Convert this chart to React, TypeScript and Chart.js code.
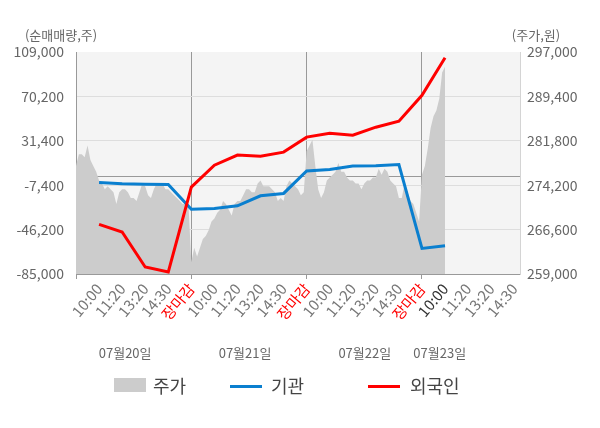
import { useEffect, useRef } from "react";
import { Chart, registerables } from "chart.js";

Chart.register(...registerables);

const FONT = '"Noto Sans CJK KR", "Noto Sans", sans-serif';

const timeLabels = ["10:00", "11:20", "13:20", "14:30", "장마감"];
const dayLabels = ["07월20일", "07월21일", "07월22일", "07월23일"];
const dayLabelAt = [2.13, 7.33, 12.52, 15.77];

// intraday price, sampled 40 times per session (day 4 only until ~10:00)
const priceDay1 = [
  277500, 279500, 279500, 279000, 281000, 278500, 277500, 276500, 275000, 274500,
  273500, 274000, 273500, 273000, 271000, 273000, 273500, 273500, 273000, 272000,
  272000, 271500, 273000, 274500, 274000, 272500, 272000, 273500, 274500, 274500,
  274500, 273500, 273500, 273000, 272500, 272000, 271500, 271000, 271000, 271000,
];
const priceDay2 = [
  261000, 263500, 262000, 263500, 265000, 265500, 266500, 268000, 268500, 269500,
  270000, 271500, 271000, 270000, 269000, 271000, 271500, 271500, 272500, 273500,
  273500, 273000, 273000, 274500, 275000, 274000, 274000, 274000, 273500, 273000,
  271500, 272000, 271500, 274000, 275000, 274500, 274000, 273500, 272500, 273000,
];
const priceDay3 = [
  280000, 281000, 282000, 277500, 273500, 272000, 273000, 275000, 275500, 276000,
  276500, 278000, 276500, 276500, 275500, 275000, 275000, 274500, 274500, 273500,
  274500, 275000, 275000, 275500, 275500, 277000, 276000, 277000, 276500, 275000,
  274500, 274000, 272000, 272000, 274500, 273000, 271500, 271000, 269500, 268000,
];
const priceDay4 = [276000, 277500, 280500, 284000, 286000, 287000, 289000, 293500, 294500];

// net buying (shares) at each label slot
const institution = [
  -5000, -6200, -6500, -6800, -28500, -27800, -25400, -16700, -14600, 5100,
  6400, 9300, 9500, 10700, -62600, -60300,
];
const foreign = [
  -41600, -48300, -78900, -83300, -9100, 10100, 18900, 18000, 21500, 34600,
  38000, 36300, 43300, 48500, 71200, 103900,
];

const leftTicks = [-85000, -46200, -7400, 0, 31400, 70200, 109000];
const rightTicks = [259000, 266600, 274200, 281800, 289400, 297000];

const priceDays = [priceDay1, priceDay2, priceDay3, priceDay4];
const pricePoints = priceDays.flatMap((day, d) =>
  day.map((p, i) => ({ x: d * 5 + i * 0.125, y: p }))
);
const slot = (arr: number[]) => arr.map((v, i) => ({ x: i + 1, y: v }));

const backdrop = {
  id: "backdrop",
  beforeDraw(chart: any) {
    const { ctx, chartArea: a } = chart;
    ctx.save();
    ctx.fillStyle = "#f4f4f4";
    ctx.fillRect(a.left, a.top, a.right - a.left, a.bottom - a.top);
    ctx.restore();
  },
};

const extraText = {
  id: "extraText",
  afterDraw(chart: any) {
    const { ctx } = chart;
    const x = chart.scales.x;
    ctx.save();
    ctx.fillStyle = "#666";
    ctx.textAlign = "center";
    ctx.textBaseline = "middle";
    ctx.font = `13px ${FONT}`;
    dayLabels.forEach((t, i) => ctx.fillText(t, x.getPixelForValue(dayLabelAt[i]), 353));
    ctx.fillText("(순매매량,주)", 61, 35);
    ctx.fillText("(주가,원)", 536, 35);
    ctx.restore();
  },
};

function Legend() {
  const text = { position: "absolute" as const, top: 373, fontSize: 18, color: "#444", fontFamily: FONT, lineHeight: "24px" };
  return (
    <>
      <div style={{ position: "absolute", left: 114, top: 378, width: 32, height: 14, background: "#cccccc" }} />
      <span style={{ ...text, left: 153 }}>주가</span>
      <div style={{ position: "absolute", left: 230, top: 385, width: 32, height: 3, background: "#0a7fcf" }} />
      <span style={{ ...text, left: 271 }}>기관</span>
      <div style={{ position: "absolute", left: 368, top: 385, width: 32, height: 3, background: "#ff0000" }} />
      <span style={{ ...text, left: 410 }}>외국인</span>
    </>
  );
}

export default function App() {
  const canvasRef = useRef<HTMLCanvasElement>(null);
  const chartRef = useRef<Chart | null>(null);

  useEffect(() => {
    document.body.style.margin = "0";
    if (!canvasRef.current) return;
    if (chartRef.current) chartRef.current.destroy();

    chartRef.current = new Chart(canvasRef.current, {
      type: "line",
      data: {
        datasets: [
          {
            label: "외국인",
            data: slot(foreign),
            yAxisID: "y",
            borderColor: "#ff0000",
            borderWidth: 3,
            pointRadius: 0,
            fill: false,
            order: 1,
          },
          {
            label: "기관",
            data: slot(institution),
            yAxisID: "y",
            borderColor: "#0a7fcf",
            borderWidth: 3,
            pointRadius: 0,
            fill: false,
            order: 2,
          },
          {
            label: "주가",
            data: pricePoints,
            yAxisID: "y1",
            borderWidth: 0,
            borderColor: "rgba(0,0,0,0)",
            backgroundColor: "#cccccc",
            pointRadius: 0,
            fill: "start",
            order: 3,
          },
        ],
      },
      options: {
        responsive: false,
        animation: false,
        layout: { padding: { top: 52, right: 0, bottom: 0, left: 0 } },
        plugins: { legend: { display: false }, tooltip: { enabled: false } },
        scales: {
          x: {
            type: "linear",
            min: 0,
            max: 19.25,
            z: 1,
            afterBuildTicks: (scale: any) => {
              scale.ticks = Array.from({ length: 20 }, (_, i) => ({ value: i }));
            },
            afterFit: (scale: any) => {
              scale.height = 154;
            },
            border: { color: "#999" },
            grid: {
              color: (c: any) => (c.tick && c.tick.value > 0 && c.tick.value % 5 === 0 ? "#999" : "rgba(0,0,0,0)"),
              tickColor: (c: any) => (c.tick && c.tick.value % 5 === 0 ? "#999" : "rgba(0,0,0,0)"),
              tickLength: 5,
            },
            ticks: {
              autoSkip: false,
              minRotation: 50,
              maxRotation: 50,
              padding: 1,
              font: { family: FONT, size: 15 },
              color: (c: any) => {
                const v = c.tick ? c.tick.value : 0;
                if (v > 0 && v % 5 === 0) return "#ff0000";
                if (v === 16) return "#333";
                return "#777";
              },
              callback: (v: any) => (v === 0 ? "" : timeLabels[(v - 1) % 5]),
            },
          },
          y: {
            position: "left",
            min: -85000,
            max: 109000,
            z: 1,
            afterBuildTicks: (scale: any) => {
              scale.ticks = leftTicks.map((v) => ({ value: v }));
            },
            afterFit: (scale: any) => {
              scale.width = 76;
            },
            border: { color: "#999" },
            grid: {
              drawTicks: false,
              color: (c: any) => {
                const v = c.tick ? c.tick.value : 0;
                if (v === 0) return "#999";
                if (v === 109000) return "rgba(0,0,0,0)";
                return "#dddddd";
              },
            },
            ticks: {
              padding: 12,
              font: { family: FONT, size: 14 },
              color: "#666",
              callback: (v: any) => (v === 0 ? "" : Number(v).toLocaleString("en-US")),
            },
          },
          y1: {
            position: "right",
            min: 259000,
            max: 297000,
            afterBuildTicks: (scale: any) => {
              scale.ticks = rightTicks.map((v) => ({ value: v }));
            },
            afterFit: (scale: any) => {
              scale.width = 80;
            },
            border: { color: "#d4d4d4" },
            grid: { display: false, drawTicks: false },
            ticks: {
              padding: 7,
              font: { family: FONT, size: 14 },
              color: "#666",
              callback: (v: any) => Number(v).toLocaleString("en-US"),
            },
          },
        },
      },
      plugins: [backdrop, extraText],
    });

    return () => {
      if (chartRef.current) {
        chartRef.current.destroy();
        chartRef.current = null;
      }
    };
  }, []);

  return (
    <div style={{ position: "relative", width: 600, height: 428, background: "#fff" }}>
      <canvas ref={canvasRef} width={600} height={428} style={{ display: "block" }} />
      <Legend />
    </div>
  );
}
